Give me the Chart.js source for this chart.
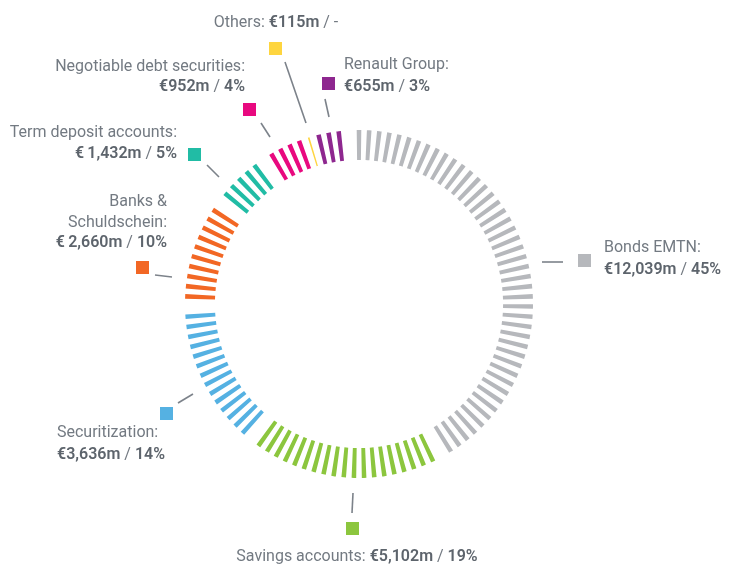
<!DOCTYPE html>
<html>
<head>
<meta charset="utf-8">
<script src="https://cdn.jsdelivr.net/npm/chart.js@4"></script>
<style>
  html, body { margin: 0; padding: 0; background: #ffffff; }
  #wrap { width: 734px; height: 567px; position: relative; }
</style>
</head>
<body>
<div id="wrap"><canvas id="chart" width="734" height="567"></canvas></div>
<script>
// data, clockwise from the top
const categories = ['Bonds EMTN', 'Savings accounts', 'Securitization', 'Banks & Schuldschein',
                    'Term deposit accounts', 'Negotiable debt securities', 'Others', 'Renault Group'];
const amounts = ['€12,039m', '€5,102m', '€3,636m', '€\u20092,660m', '€\u20091,432m', '€952m', '€115m', '€655m'];
const percents = [45, 19, 14, 10, 5, 4, null, 3];
const colors = ['#b6b8bc', '#8cc63e', '#55b1e2', '#f26724', '#21bca5', '#e8097f', '#fed53f', '#8e278f'];
// empty tick slot left after each group
const gapsAfter = [1, 1, 1, 1, 1, 0, 0, 1];

const TICK = 0.45;      // share of a slot that is painted
const THIN = 0.16;      // tick for a share under 1%

// one slot per percent: half gap, tick, half gap
const sliceData = [];
const sliceColors = [];
categories.forEach((c, i) => {
  const n = percents[i] === null ? 1 : percents[i];
  const w = percents[i] === null ? THIN : TICK;
  for (let k = 0; k < n; k++) {
    sliceData.push((1 - w) / 2, w, (1 - w) / 2);
    sliceColors.push('rgba(0,0,0,0)', colors[i], 'rgba(0,0,0,0)');
  }
  for (let g = 0; g < gapsAfter[i]; g++) {
    sliceData.push(1);
    sliceColors.push('rgba(0,0,0,0)');
  }
});
const slotCount = sliceData.reduce((a, b) => a + b, 0);
const slotDeg = 360 / slotCount;

const FONT = 'Roboto';
const LABEL = '#737a82';
const VALUE = '#5d646c';
const LINE = '#7c828a';

// label layout: [text parts per line], anchor, align
// each part: [text, bold]
const labels = [
  { i: 0, sq: [578, 254], line: [[542, 262], [563, 262]], x: 604, align: 'left',
    lines: [[['Bonds EMTN:', 0]], [[amounts[0], 1], [' / ', 0], ['45%', 1]]], y: [248, 270] },
  { i: 1, sq: [346, 522], line: [[353, 493], [352, 513]], x: 357, align: 'center',
    lines: [[['Savings accounts: ', 0], [amounts[1], 1], [' / ', 0], ['19%', 1]]], y: [557] },
  { i: 2, sq: [160, 407], line: [[178, 403], [193, 394]], x: 57, align: 'left',
    lines: [[['Securitization:', 0]], [[amounts[2], 1], [' / ', 0], ['14%', 1]]], y: [433, 455] },
  { i: 3, sq: [136, 261], line: [[155, 275], [172, 277]], x: 167, align: 'right',
    lines: [[['Banks &', 0]], [['Schuldschein:', 0]], [[amounts[3], 1], [' / ', 0], ['10%', 1]]], y: [202, 223, 243] },
  { i: 4, sq: [188, 148], line: [[207, 165], [219, 177]], x: 177, align: 'right',
    lines: [[['Term deposit accounts:', 0]], [[amounts[4], 1], [' / ', 0], ['5%', 1]]], y: [133, 154] },
  { i: 5, sq: [243, 103], line: [[261, 123], [270, 137]], x: 245, align: 'right',
    lines: [[['Negotiable debt securities:', 0]], [[amounts[5], 1], [' / ', 0], ['4%', 1]]], y: [67, 87] },
  { i: 6, sq: [269, 42], line: [[285, 62], [306, 123]], x: 276, align: 'center',
    lines: [[['Others: ', 0], [amounts[6], 1], [' / -', 0]]], y: [23] },
  { i: 7, sq: [322, 77], line: [[325, 99], [329, 117]], x: 344, align: 'left',
    lines: [[['Renault Group:', 0]], [[amounts[7], 1], [' / ', 0], ['3%', 1]]], y: [65, 87] }
];

const labelPlugin = {
  id: 'labels',
  afterDraw(chart) {
    const ctx = chart.ctx;
    ctx.save();
    labels.forEach(l => {
      ctx.fillStyle = colors[l.i];
      ctx.fillRect(l.sq[0], l.sq[1], 13, 13);
      ctx.strokeStyle = LINE;
      ctx.lineWidth = 1.6;
      ctx.beginPath();
      ctx.moveTo(l.line[0][0], l.line[0][1]);
      ctx.lineTo(l.line[1][0], l.line[1][1]);
      ctx.stroke();
      ctx.textBaseline = 'middle';
      l.lines.forEach((parts, j) => {
        const fonts = parts.map(p => (p[1] ? '600 ' : '400 ') + '16px ' + FONT);
        const widths = parts.map((p, k) => { ctx.font = fonts[k]; return ctx.measureText(p[0]).width; });
        const total = widths.reduce((a, b) => a + b, 0);
        let x = l.x;
        if (l.align === 'right') x -= total;
        if (l.align === 'center') x -= total / 2;
        parts.forEach((p, k) => {
          ctx.font = fonts[k];
          ctx.fillStyle = p[1] ? VALUE : LABEL;
          ctx.textAlign = 'left';
          ctx.fillText(p[0], x, l.y[j]);
          x += widths[k];
        });
      });
    });
    ctx.restore();
  }
};

new Chart(document.getElementById('chart'), {
  type: 'doughnut',
  data: {
    labels: sliceData.map((_, i) => String(i)),
    datasets: [{
      data: sliceData,
      backgroundColor: sliceColors,
      borderWidth: 0,
      hoverOffset: 0
    }]
  },
  options: {
    responsive: false,
    animation: false,
    rotation: -slotDeg / 2,
    cutout: '82.8%',
    layout: { padding: { top: 130, bottom: 89, left: 185, right: 201 } },
    plugins: {
      legend: { display: false },
      tooltip: { enabled: false }
    },
    events: []
  },
  plugins: [labelPlugin]
});
</script>
</body>
</html>
